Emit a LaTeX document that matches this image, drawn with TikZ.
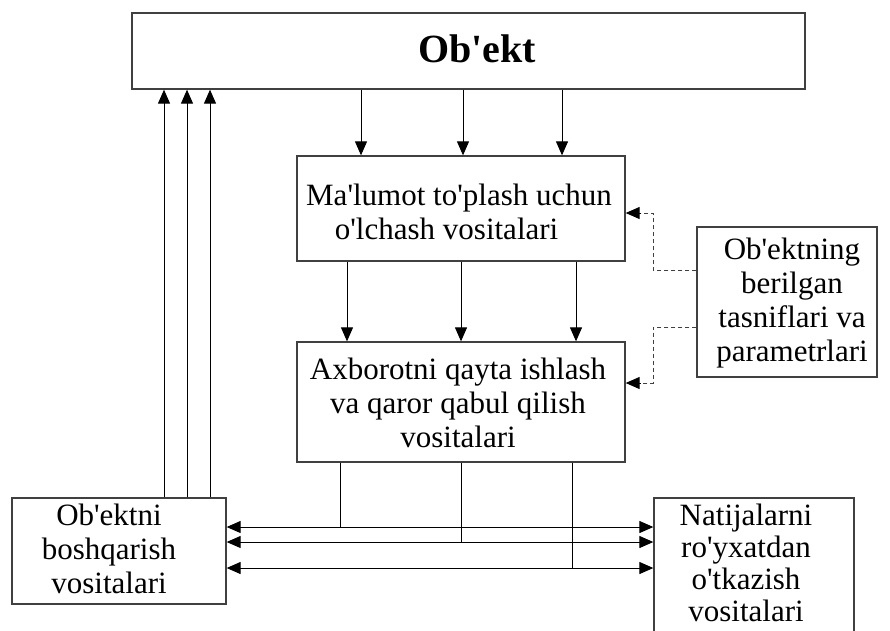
\documentclass[tikz,border=0pt]{standalone}
\usepackage{fontspec}
\setmainfont{Liberation Serif}[Ligatures=TeXOff]
\usetikzlibrary{arrows.meta,calc}
\begin{document}
\begin{tikzpicture}[x=1pt,y=-1pt,
  box/.style={draw=black!75,line width=1.3pt,inner sep=0pt},
  txt/.style={align=center,font=\fontsize{31}{34}\selectfont,inner sep=0pt},
  arr/.style={-{Triangle[length=14pt,width=12pt]},line width=1pt},
  dbl/.style={{Triangle[length=14pt,width=12pt]}-{Triangle[length=14pt,width=12pt]},line width=1pt},
  dsh/.style={draw=black!75,dash pattern=on 4pt off 3pt,line width=1pt},
  ln/.style={line width=1pt}]
\useasboundingbox (0,0) rectangle (890,630);
% boxes
\node[box,minimum width=673pt,minimum height=76pt] (obj) at (468.5,51) {};
\node[box,minimum width=328pt,minimum height=105pt] (mal) at (461,208.5) {};
\node[box,minimum width=328pt,minimum height=120pt] (axb) at (461,402) {};
\node[box,minimum width=180pt,minimum height=150pt] (par) at (787,302) {};
\node[box,minimum width=214pt,minimum height=106pt] (lb) at (119,551) {};
\node[box,minimum width=200pt,minimum height=162pt] (rb) at (754,579) {};
% texts
\node[txt,font=\fontsize{40}{44}\selectfont\bfseries] (tobj) at (477,49) {Ob'ekt};
\node[txt] (tmal) at (459,212) {Ma'lumot to'plash uchun\\o'lchash vositalari\hspace*{0.8em}};
\node[txt] (taxb) at (458,403) {Axborotni qayta ishlash\\va qaror qabul qilish\\vositalari};
\node[txt] (tpar) at (792,303) {Ob'ektning\\berilgan\\tasniflari va\\parametrlari};
\node[txt] (tlb) at (109,549) {Ob'ektni\\boshqarish\\vositalari};
\node[txt,font=\fontsize{31}{32}\selectfont] (trb) at (746,563) {Natijalarni\\ro'yxatdan\\o'tkazish\\vositalari};
% helper x positions
\coordinate (u1) at (164,0);
\coordinate (u2) at (187,0);
\coordinate (u3) at (210,0);
\coordinate (d1) at (361,0);
\coordinate (d2) at (463,0);
\coordinate (d3) at (562,0);
\coordinate (m1) at (347,0);
\coordinate (m2) at (461,0);
\coordinate (m3) at (576,0);
\coordinate (b1) at (340,0);
\coordinate (b2) at (461,0);
\coordinate (b3) at (572,0);
\coordinate (h1) at (0,527);
\coordinate (h2) at (0,542);
\coordinate (h3) at (0,568);
\coordinate (dx) at (653,0);
\coordinate (e1) at (0,213);
\coordinate (p1) at (0,270);
\coordinate (p2) at (0,327);
\coordinate (e2) at (0,383);
% control arrows up
\draw[arr] (lb.north -| u1) -- (obj.south -| u1);
\draw[arr] (lb.north -| u2) -- (obj.south -| u2);
\draw[arr] (lb.north -| u3) -- (obj.south -| u3);
% object to measuring
\draw[arr] (obj.south -| d1) -- (mal.north -| d1);
\draw[arr] (obj.south -| d2) -- (mal.north -| d2);
\draw[arr] (obj.south -| d3) -- (mal.north -| d3);
% measuring to processing
\draw[arr] (mal.south -| m1) -- (axb.north -| m1);
\draw[arr] (mal.south -| m2) -- (axb.north -| m2);
\draw[arr] (mal.south -| m3) -- (axb.north -| m3);
% dashed from parameters
\draw[dsh] (par.west |- p1) -- (dx |- p1) -- (dx |- e1) -- ($(mal.east |- e1)+(13,0)$);
\draw[arr] ($(mal.east |- e1)+(15,0)$) -- (mal.east |- e1);
\draw[dsh] (par.west |- p2) -- (dx |- p2) -- (dx |- e2) -- ($(axb.east |- e2)+(13,0)$);
\draw[arr] ($(axb.east |- e2)+(15,0)$) -- (axb.east |- e2);
% processing to horizontal buses
\draw[ln] (axb.south -| b1) -- (b1 |- h1);
\draw[ln] (axb.south -| b2) -- (b2 |- h2);
\draw[ln] (axb.south -| b3) -- (b3 |- h3);
% double arrows
\draw[dbl] (lb.east |- h1) -- (rb.west |- h1);
\draw[dbl] (lb.east |- h2) -- (rb.west |- h2);
\draw[dbl] (lb.east |- h3) -- (rb.west |- h3);
\end{tikzpicture}
\end{document}
